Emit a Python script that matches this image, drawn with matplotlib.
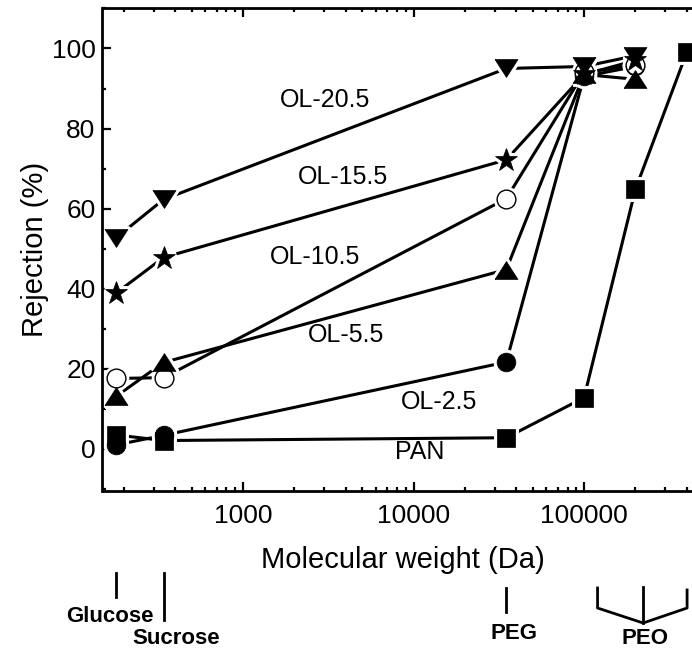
import matplotlib
matplotlib.use("Agg")
import matplotlib.pyplot as plt
import matplotlib.transforms as mtransforms
from matplotlib.ticker import LogLocator, FixedLocator, FixedFormatter, MultipleLocator, NullFormatter

plt.rcParams['font.family'] = ['Liberation Sans', 'DejaVu Sans']

# ---- data ----
mw = [180, 342, 35000, 100000, 200000]
mw_pan = [180, 342, 35000, 100000, 200000, 400000]

ol205 = [52.7, 62.3, 95.0, 95.5, 98.2]
ol155 = [38.9, 47.8, 72.2, 93.5, 97.0]
ol105 = [17.6, 17.8, 62.5, 94.0, 95.8]
ol55 = [13.1, 21.6, 44.8, 93.5, 92.3]
ol25 = [1.0, 3.4, 21.7, 93.0, 95.5]
pan = [3.5, 2.1, 2.8, 12.8, 64.8, 99.0]

# wide, flat triangles as drawn in the reference
tri_down = [(-1, 0.78), (1, 0.78), (0, -0.78), (-1, 0.78)]
tri_up = [(-1, -0.78), (1, -0.78), (0, 0.78), (-1, -0.78)]

# drawing order: first drawn is lowest
series = [
    ("PAN", mw_pan, pan, 's', 13, 'black'),
    ("OL-2.5", mw, ol25, 'o', 13.5, 'black'),
    ("OL-10.5", mw, ol105, 'o', 13.5, 'white'),
    ("OL-15.5", mw, ol155, '*', 17, 'black'),
    ("OL-5.5", mw, ol55, tri_up, 16.5, 'black'),
    ("OL-20.5", mw, ol205, tri_down, 16.5, 'black'),
]

# label positions (data coords)
label_pos = {
    "OL-20.5": (3030, 87.1),
    "OL-15.5": (3860, 67.9),
    "OL-10.5": (2640, 47.9),
    "OL-5.5": (4020, 28.5),
    "OL-2.5": (14100, 11.7),
    "PAN": (10800, -0.8),
}

xticks = [1000, 10000, 100000]
xticklabels = ["1000", "10000", "100000"]
yticks = [0, 20, 40, 60, 80, 100]

W, H = 692, 649
fig = plt.figure(figsize=(W / 100, H / 100), dpi=100)
ax = fig.add_axes([102.5 / W, 1 - 491 / H, 597.5 / W, 483 / H])

for i, (name, xs, ys, mk, ms, fc) in enumerate(series):
    ax.plot(xs, ys, '-', color='black', lw=2.2, zorder=1, solid_capstyle='butt')
    ax.plot(xs, ys, ls='none', marker=mk, ms=ms, mfc='white', mec='white', mew=5, zorder=2)
    ax.plot(xs, ys, ls='none', marker=mk, ms=ms, mfc=fc, mec='black',
            mew=1.0 if fc == 'white' else 0.5, zorder=3 + i * 0.1, clip_on=False)

for name, (lx, ly) in label_pos.items():
    ax.text(lx, ly, name, fontsize=18, ha='center', va='center', zorder=4)

ax.set_xscale('log')
ax.set_xlim(150, 478600)
ax.set_ylim(-10.5, 110.1)

ax.xaxis.set_major_locator(FixedLocator(xticks))
ax.xaxis.set_major_formatter(FixedFormatter(xticklabels))
ax.xaxis.set_minor_locator(LogLocator(base=10, subs=range(2, 10), numticks=20))
ax.xaxis.set_minor_formatter(NullFormatter())
ax.set_yticks(yticks)
ax.yaxis.set_minor_locator(MultipleLocator(10))

ax.tick_params(axis='both', which='both', direction='in', width=1.6, labelsize=19)
ax.tick_params(axis='x', which='both', top=True, bottom=True, pad=9.5)
ax.tick_params(axis='y', which='both', left=True, right=False, pad=5)
ax.tick_params(which='major', length=6.5)
ax.tick_params(which='minor', length=3)

for side in ['left', 'bottom', 'top']:
    ax.spines[side].set_linewidth(2.0)
ax.spines['right'].set_visible(False)

ax.set_xlabel("Molecular weight (Da)", fontsize=21)
ax.xaxis.set_label_coords((403 - 102.5) / 597.5, (491 - 546) / 483)
ax.set_ylabel("Rejection (%)", fontsize=21)
ax.yaxis.set_label_coords((35 - 102.5) / 597.5, 0.5)
ax.yaxis.label.set_verticalalignment('center')

# ---- annotations below the axis ----
tr = mtransforms.blended_transform_factory(ax.transData, fig.transFigure)
def fy(py):
    return 1 - py / H

ann_lines = [
    ([180, 180], [573, 597]),
    ([342, 342], [573, 620]),
    ([35000, 35000], [588, 612]),
    ([120000, 120000, 222000, 402000, 402000], [588, 608, 623, 608, 590]),
    ([222000, 222000], [587, 623]),
]
for xs, ys in ann_lines:
    fig.add_artist(plt.Line2D(xs, [fy(v) for v in ys], transform=tr, color='black', lw=2.0))

ann_text = [
    ("Glucose", 166, 622),
    ("Sucrose", 405, 644),
    ("PEG", 38800, 639),
    ("PEO", 228000, 644),
]
for t, x, y in ann_text:
    fig.text(x, fy(y), t, transform=tr, fontsize=16, fontweight='bold', ha='center', va='baseline')

fig.savefig("out.png", dpi=100)
